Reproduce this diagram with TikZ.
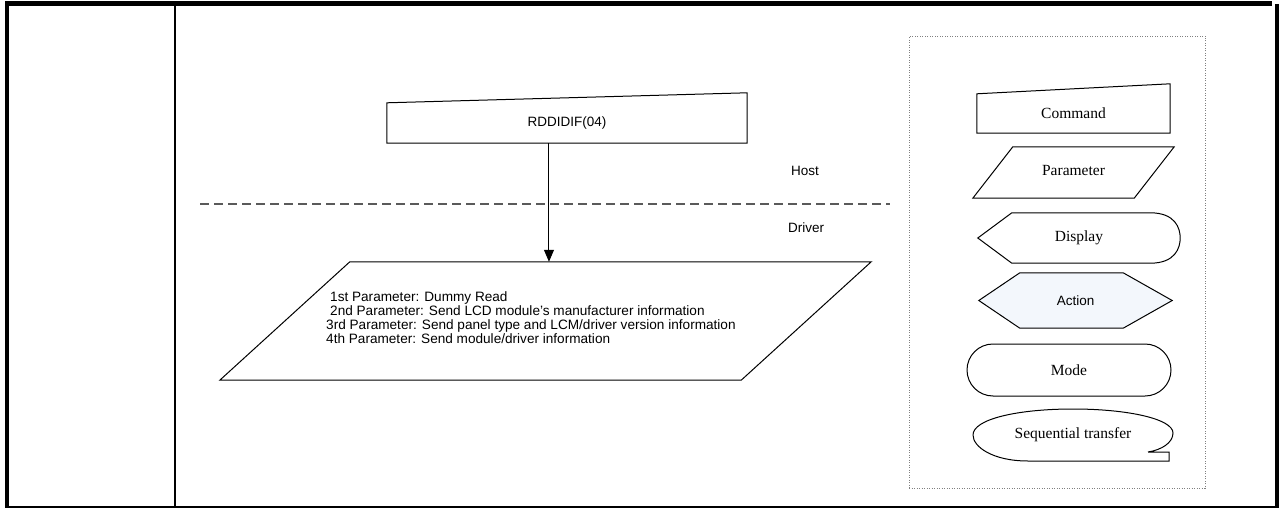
\documentclass[tikz,border=0pt]{standalone}
\usepackage{fontspec}
\setmainfont{Liberation Serif}
\setsansfont{Liberation Sans}
\usetikzlibrary{arrows.meta,positioning,calc,shapes.misc,backgrounds}
\definecolor{actionfill}{RGB}{243,247,252}
\definecolor{sepgray}{RGB}{90,90,90}
\tikzset{%
  shapebox/.style={inner sep=0pt,align=center},
  legendtext/.style={font=\fontsize{15.5}{17}\selectfont},
  flowtext/.style={font=\sffamily\fontsize{13.5}{15}\selectfont},
  outline/.style={draw=black,line width=1pt},
  arrow/.style={-{Triangle[length=12pt,width=10pt]}, line width=1pt}%
}

\begin{document}
\begin{tikzpicture}[
    x=1pt, y=-1pt,
    sepline/.style={draw=sepgray, line width=1.2pt, dash pattern=on 9pt off 5pt},
    legendbox/.style={draw=gray, line width=0.8pt, dash pattern=on 1pt off 1.5pt}
]
\useasboundingbox (0,0) rectangle (1279,508);

% Frame
\draw[line width=5pt] (5,3.5) -- (1272,3.5);
\draw[line width=4pt] (7,3) -- (7,508);
\draw[line width=4pt] (1277,4) -- (1277,508);
\draw[line width=2pt] (175,6) -- (175,508);
\draw[line width=1.5pt] (7,507) -- (1277,507);

% Legend
\node[legendbox, minimum width=296pt, minimum height=452pt] (legend) at (1057,262) {};

\node[shapebox, legendtext, minimum width=193pt, minimum height=39pt] (command) at (1073.5,113.5) {Command};
\draw[outline] (command.south west) -- (command.north west) -- ([yshift=10pt]command.north east) -- (command.south east) -- cycle;

\node[shapebox, legendtext, minimum width=201pt, minimum height=51pt] (parameter) at (1073.5,171) {Parameter};
\draw[outline] ([yshift=-1.5pt]parameter.south west) -- ([xshift=-40pt,yshift=-1.5pt]parameter.south east) -- ([yshift=-1.5pt]parameter.north east) -- ([xshift=40pt,yshift=-1.5pt]parameter.north west) -- cycle;

\node[shapebox, legendtext, minimum width=202pt, minimum height=50pt] (display) at (1079,238) {Display};
\draw[outline] (display.west) -- ([xshift=34pt]display.north west) -- ([xshift=-30pt]display.north east)
  .. controls ([xshift=-5pt]display.north east) and ([yshift=10pt]display.east) .. (display.east)
  .. controls ([yshift=-10pt]display.east) and ([xshift=-5pt]display.south east) .. ([xshift=-30pt]display.south east)
  -- ([xshift=34pt]display.south west) -- cycle;

\node[shapebox, flowtext, minimum width=193pt, minimum height=55pt] (action) at (1075.5,300.5) {Action};
\begin{pgfonlayer}{background}
\draw[outline, fill=actionfill] (action.west) -- ([xshift=41pt]action.north west) -- ([xshift=-49pt]action.north east) -- (action.east)
  -- ([xshift=-49pt]action.south east) -- ([xshift=41pt]action.south west) -- cycle;
\end{pgfonlayer}

\node[outline, rounded rectangle, legendtext, inner sep=0pt, minimum width=204pt, minimum height=52pt] (mode) at (1069,370) {Mode};

\node[shapebox, legendtext, minimum width=200pt, minimum height=52pt] (seq) at (1073,435) {Sequential transfer};
\draw[outline, shift={(seq.center)}] (75,17) -- (96,17) -- (96,26) -- (-45,26)
  .. controls (-80,26) and (-100,12) .. (-100,0)
  .. controls (-100,-16) and (-55,-26) .. (0,-26)
  .. controls (55,-26) and (100,-16) .. (100,-2)
  .. controls (100,8) and (88,15) .. (75,17);

% Flow
\node[shapebox, flowtext, minimum width=360pt, minimum height=40pt] (rddidif) at (567,123) {RDDIDIF(04)};
\draw[outline] (rddidif.south west) -- (rddidif.north west) -- ([yshift=10pt]rddidif.north east) -- (rddidif.south east) -- cycle;

\node[shapebox, minimum width=651pt, minimum height=118pt] (params) at (545.5,321) {};
\draw[outline] (params.south west) -- ([xshift=-130pt]params.south east) -- (params.north east) -- ([xshift=130pt]params.north west) -- cycle;
\node[inner sep=0pt, align=left, anchor=west, font=\sffamily\fontsize{13.6}{14}\selectfont] (paramtext) at (326,318)
  {\hspace*{4pt}1st Parameter: Dummy Read\\
   \hspace*{4pt}2nd Parameter: Send LCD module's manufacturer information\\
   3rd Parameter: Send panel type and LCM/driver version information\\
   4th Parameter: Send module/driver information};

% Host / Driver
\coordinate (sepL) at (200,204);
\coordinate (sepR) at (890,204);
\draw[sepline] (sepL) -- (sepR);
\node[flowtext] (host) at (805,171) {Host};
\node[flowtext] (driver) at (806,228) {Driver};

% Arrows
\coordinate (cmdout) at ($(rddidif.south west)!0.45!(rddidif.south east)$);
\draw[arrow] (cmdout) -- (cmdout |- params.north);

\end{tikzpicture}
\end{document}
